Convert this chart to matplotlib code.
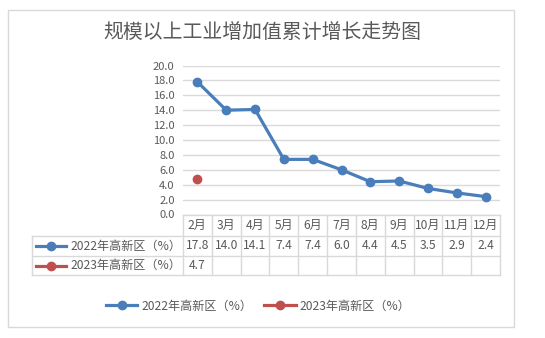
import matplotlib
matplotlib.use('Agg')
import matplotlib.pyplot as plt
from matplotlib.patches import Rectangle

plt.rcParams['font.family'] = ['Noto Sans CJK SC', 'DejaVu Sans']

title = '规模以上工业增加值累计增长走势图'
months = ['2月', '3月', '4月', '5月', '6月', '7月', '8月', '9月', '10月', '11月', '12月']
name_2022 = '2022年高新区（%）'
name_2023 = '2023年高新区（%）'
vals_2022 = [17.8, 14.0, 14.1, 7.4, 7.4, 6.0, 4.4, 4.5, 3.5, 2.9, 2.4]
vals_2023 = [4.7]

blue = '#4a7ebb'
red = '#c0504d'
grid_c = '#d9d9d9'
txt_c = '#595959'

W, H = 545, 338
fig = plt.figure(figsize=(W / 100, H / 100), dpi=100)

# overlay in pixel coords for border and table
ov = fig.add_axes([0, 0, 1, 1], zorder=0)
ov.set_xlim(0, W)
ov.set_ylim(H, 0)
ov.axis('off')
ov.add_patch(Rectangle((8, 10), 506, 317, fill=False, edgecolor=grid_c, lw=1))

left, right, top, bottom = 183, 500, 65.5, 214.5
ax = fig.add_axes([left / W, 1 - bottom / H, (right - left) / W, (bottom - top) / H], zorder=1)
ax.patch.set_visible(False)
x = list(range(len(months)))
l1, = ax.plot(x, vals_2022, color=blue, lw=2.3, marker='o', ms=6, label=name_2022)
l2, = ax.plot(x[:len(vals_2023)], vals_2023, color=red, lw=2.3, marker='o', ms=6, label=name_2023)
ax.set_xlim(-0.5, len(months) - 0.5)
ax.set_ylim(0, 20)
ax.set_yticks([i * 2 for i in range(11)])
ax.set_yticklabels(['%.1f' % (i * 2) for i in range(11)], color=txt_c, fontsize=8)
ax.set_xticks([])
ax.tick_params(axis='y', length=0, pad=6)
ax.grid(axis='y', color=grid_c, lw=1)
ax.set_axisbelow(True)
for s in ax.spines.values():
    s.set_visible(False)

# data table
n = len(months)
cw = (right - left) / n
r0, r1, r2, r3 = bottom, 236, 255.7, 275.3
lab_left = 32
for i in range(n + 1):
    xx = left + i * cw
    ov.plot([xx, xx], [r0, r3], color=grid_c, lw=1)
ov.plot([lab_left, lab_left], [r1, r3], color=grid_c, lw=1)
ov.plot([left, right], [r0, r0], color=grid_c, lw=1)
for yy in (r1, r2, r3):
    ov.plot([lab_left, right], [yy, yy], color=grid_c, lw=1)

fs = 8.7
for i, m in enumerate(months):
    cx = left + (i + 0.5) * cw
    ov.text(cx, (r0 + r1) / 2, m, ha='center', va='center', fontsize=fs, color=txt_c)
for i, v in enumerate(vals_2022):
    cx = left + (i + 0.5) * cw
    ov.text(cx, (r1 + r2) / 2, '%.1f' % v, ha='center', va='center', fontsize=fs, color=txt_c)
for i, v in enumerate(vals_2023):
    cx = left + (i + 0.5) * cw
    ov.text(cx, (r2 + r3) / 2, '%.1f' % v, ha='center', va='center', fontsize=fs, color=txt_c)

for (yc, c, name) in (((r1 + r2) / 2, blue, name_2022), ((r2 + r3) / 2, red, name_2023)):
    ov.plot([36, 66], [yc, yc], color=c, lw=2.3)
    ov.plot([51], [yc], color=c, marker='o', ms=6)
    ov.text(70, yc, name, ha='left', va='center', fontsize=fs, color=txt_c)

fig.text(262 / W, 1 - 33 / H, title, ha='center', va='center', fontsize=14.3, color=txt_c)

fig.legend(handles=[l1, l2], loc='center', bbox_to_anchor=(258 / W, 1 - 306 / H), ncol=2,
           frameon=False, fontsize=fs, handlelength=2.6, handletextpad=0.3, columnspacing=1.0,
           labelcolor=txt_c)

fig.savefig('out.png', dpi=100)
